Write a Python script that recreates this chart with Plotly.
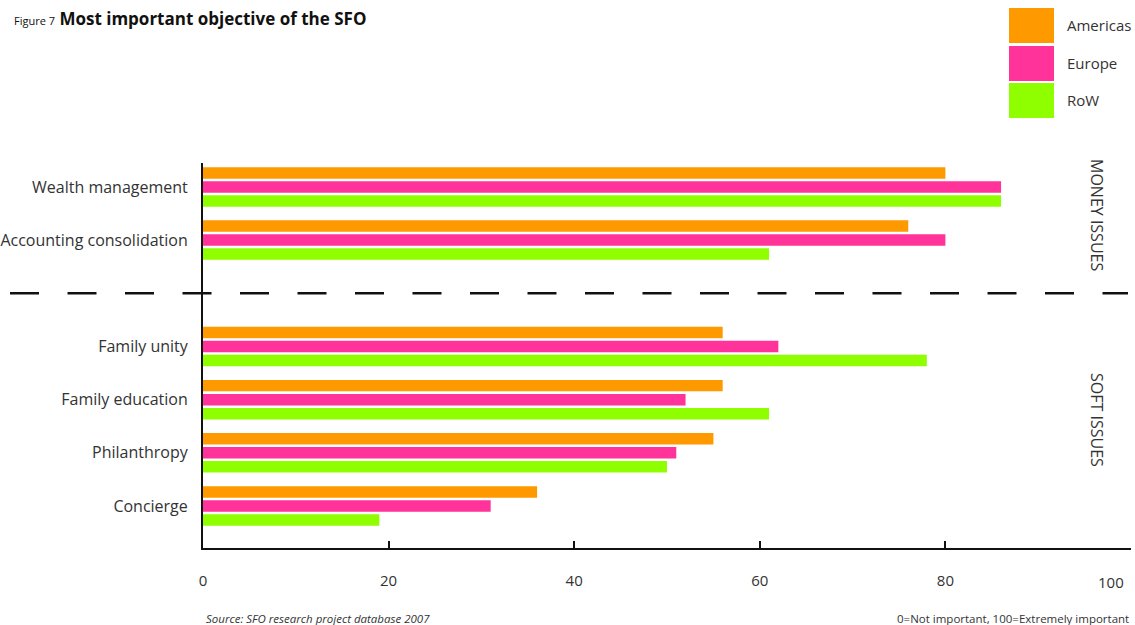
import plotly.graph_objects as go

categories = ["Wealth management", "Accounting consolidation", "Family unity",
              "Family education", "Philanthropy", "Concierge"]
cat_pos = [0, 1, 3, 4, 5, 6]  # slot 2 left empty for the divider
series = ["Americas", "Europe", "RoW"]
americas = [80, 76, 56, 56, 55, 36]
europe = [86, 80, 62, 52, 51, 31]
row = [86, 61, 78, 61, 50, 19]
colors = ["#ff9900", "#ff3399", "#8fff00"]
x_ticks = [0, 20, 40, 60, 80, 100]

FONT = "Open Sans"
TXT = "#333333"

# layout geometry (pixels)
L, R_EDGE, TOP, BOT = 203, 1131, 163, 548
W, H = R_EDGE - L, BOT - TOP


def px(x):
    return (x - L) / W


def py(y):
    return (BOT - y) / H


fig = go.Figure()
for name, vals, col in zip(series, [americas, europe, row], colors):
    fig.add_trace(go.Bar(
        x=vals, y=cat_pos, name=name, orientation="h",
        marker=dict(color=col, line=dict(width=0)),
        showlegend=False, hoverinfo="x+name",
    ))

shapes = []
annotations = []

# divider dashed line between money and soft issues
shapes.append(dict(type="line", xref="paper", yref="y",
                   x0=px(10), x1=px(1128), y0=2, y1=2,
                   line=dict(color="#111111", width=2.5, dash="29px,28.5px")))

# custom legend: big colour blocks
leg_boxes = [(8, 43), (46, 81), (83, 118)]
for (y0, y1), name, col in zip(leg_boxes, series, colors):
    shapes.append(dict(type="rect", xref="paper", yref="paper",
                       x0=px(1009), x1=px(1054), y0=py(y1), y1=py(y0),
                       fillcolor=col, line=dict(width=0)))
    annotations.append(dict(xref="paper", yref="paper", x=px(1065), y=py((y0 + y1) / 2),
                            text=name, showarrow=False, xanchor="left", yanchor="middle",
                            font=dict(family=FONT, size=15, color=TXT)))

# title
annotations.append(dict(xref="paper", yref="paper", x=px(12), y=py(18),
                        text="<span style='font-size:11px;font-weight:normal'>Figure 7</span> "
                             "<b>Most important objective of the SFO</b>",
                        showarrow=False, xanchor="left", yanchor="middle",
                        font=dict(family=FONT, size=17, color="#111111")))

# side group labels
annotations.append(dict(xref="paper", yref="paper", x=px(1097), y=py(215),
                        text="MONEY ISSUES", textangle=90, showarrow=False,
                        xanchor="center", yanchor="middle",
                        font=dict(family=FONT, size=16, color=TXT)))
annotations.append(dict(xref="paper", yref="paper", x=px(1097), y=py(420),
                        text="SOFT ISSUES", textangle=90, showarrow=False,
                        xanchor="center", yanchor="middle",
                        font=dict(family=FONT, size=16, color=TXT)))

# last x tick label pulled inside the page (as in the original)
annotations.append(dict(xref="x", yref="paper", x=x_ticks[-1], y=py(582),
                        text=str(x_ticks[-1]), showarrow=False, xanchor="right",
                        yanchor="middle", xshift=-5,
                        font=dict(family=FONT, size=15, color=TXT)))

# footer
annotations.append(dict(xref="paper", yref="paper", x=px(204), y=py(618),
                        text="<i>Source: SFO research project database 2007</i>",
                        showarrow=False, xanchor="left", yanchor="middle",
                        font=dict(family=FONT, size=11.5, color=TXT)))
annotations.append(dict(xref="paper", yref="paper", x=px(1131), y=py(618),
                        text="0=Not important, 100=Extremely important",
                        showarrow=False, xanchor="right", yanchor="middle",
                        font=dict(family=FONT, size=11.5, color=TXT)))

fig.update_layout(
    width=1135, height=625,
    margin=dict(l=L, r=1135 - R_EDGE, t=TOP, b=625 - BOT, autoexpand=False),
    paper_bgcolor="white", plot_bgcolor="white",
    barmode="group", bargap=0.21, bargroupgap=0.18,
    shapes=shapes, annotations=annotations,
    font=dict(family=FONT, color=TXT),
    xaxis=dict(range=[0, 100], tickvals=x_ticks,
               ticktext=[str(v) for v in x_ticks[:-1]] + [""],
               showgrid=False, zeroline=False, showline=True, linecolor="#111111",
               linewidth=2, ticks="inside", ticklen=7, tickwidth=2, tickcolor="#111111",
               ticklabelstandoff=18, tickfont=dict(family=FONT, size=15, color=TXT)),
    yaxis=dict(range=[6.79, -0.45], tickvals=cat_pos, ticktext=categories,
               showgrid=False, zeroline=False, showline=True, linecolor="#111111",
               linewidth=2, ticks="", ticklabelstandoff=10,
               tickfont=dict(family=FONT, size=16, color=TXT)),
)

fig.write_html("out.html", config={"displayModeBar": False},
               post_script="document.body.style.margin='0';document.body.style.overflow='hidden';")
